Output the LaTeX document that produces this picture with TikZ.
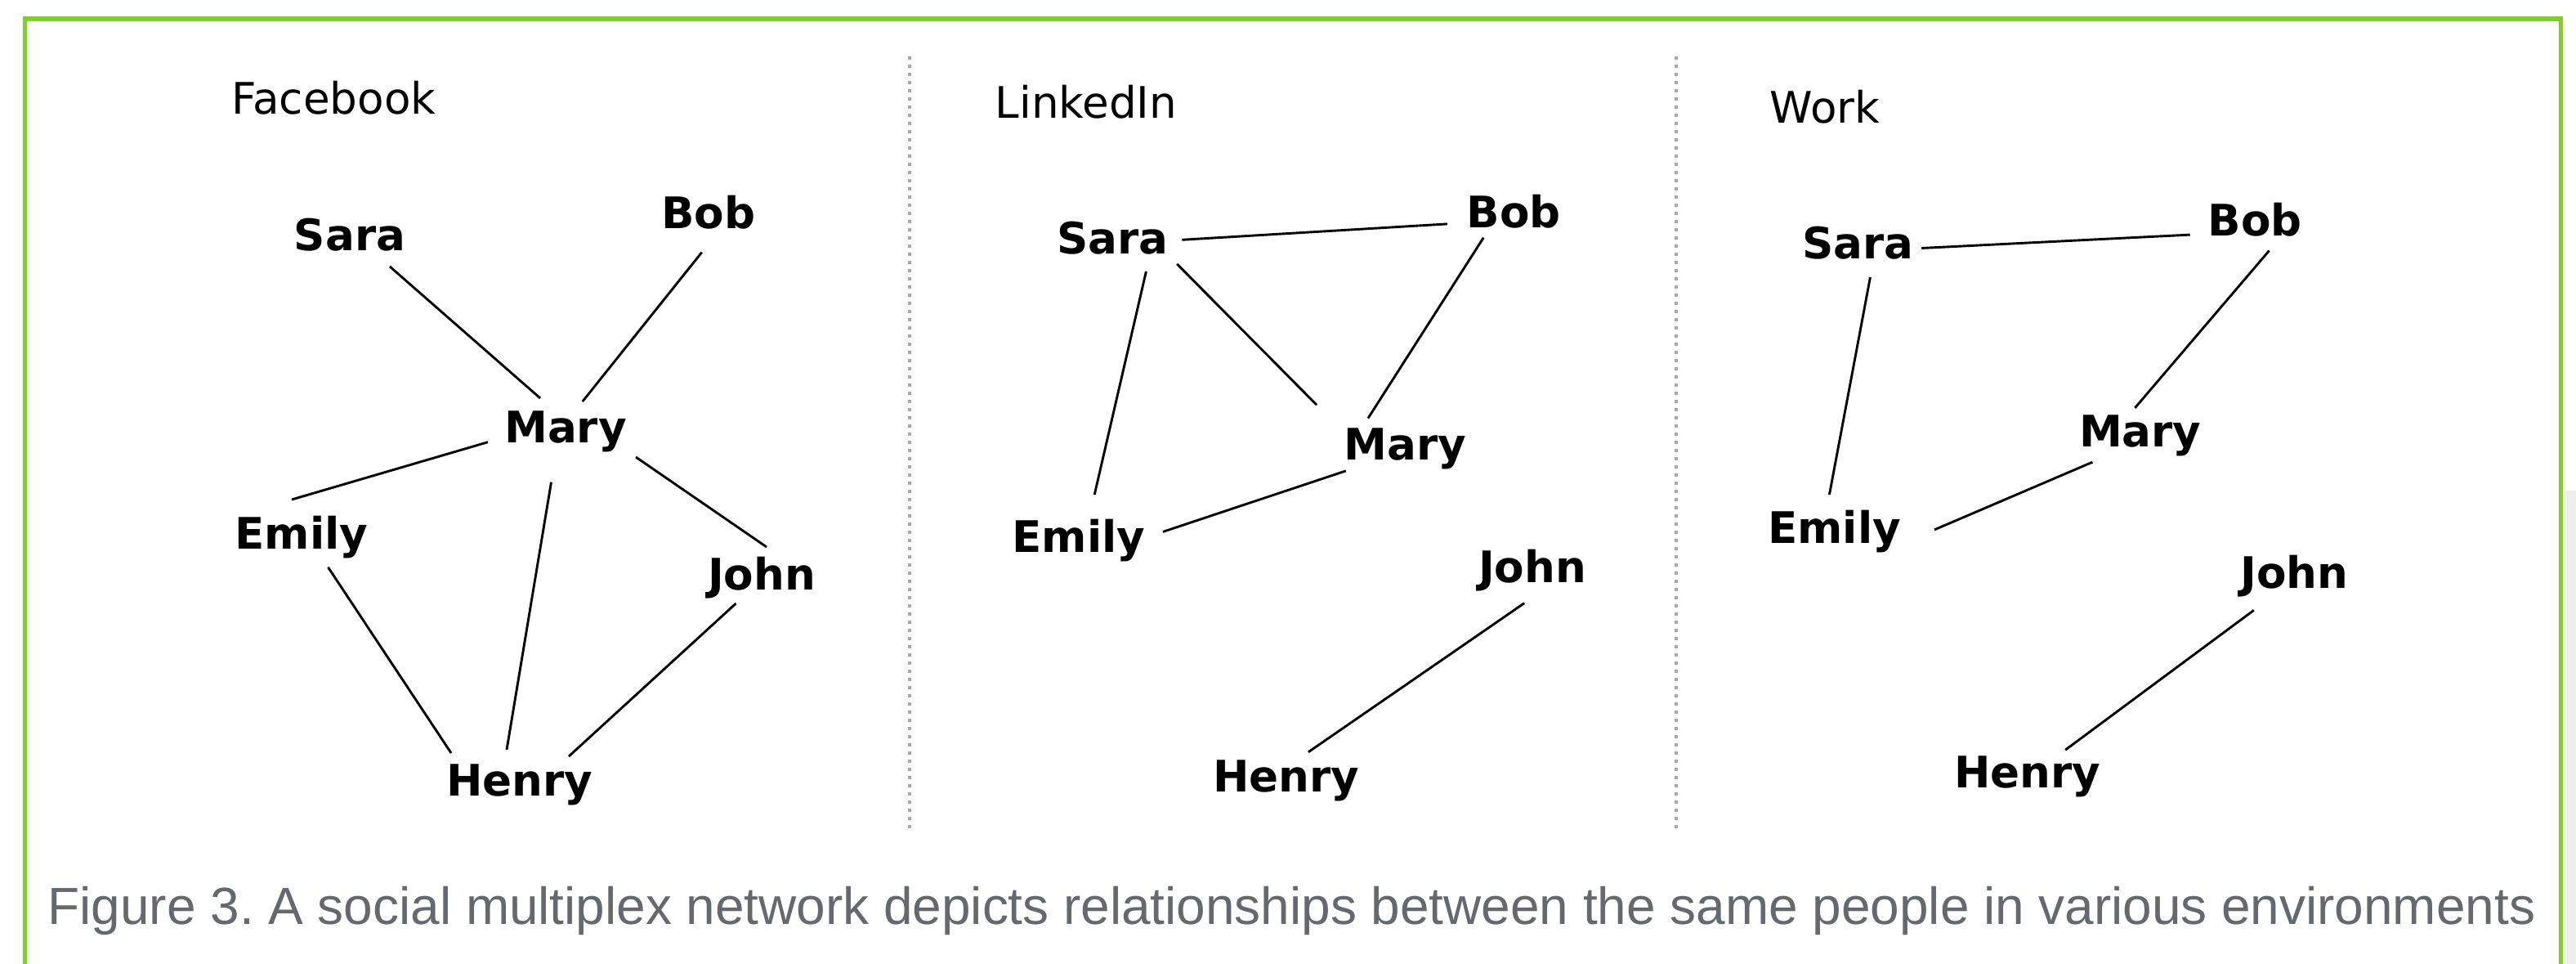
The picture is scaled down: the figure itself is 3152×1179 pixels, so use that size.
\documentclass[tikz,border=0pt]{standalone}
\usepackage{fontspec}
\usetikzlibrary{calc}
\newfontfamily\dejavu{DejaVu Sans}
\newfontfamily\capfont{Liberation Sans}
\definecolor{framegreen}{RGB}{127,208,39}
\definecolor{dotgray}{RGB}{167,169,172}
\definecolor{captiongray}{RGB}{101,104,109}
\definecolor{sidegray}{RGB}{238,238,238}
\newcommand\mylink[6]{\draw[edgeline] ($(#1.base)+(#2,#3)$) -- ($(#4.base)+(#5,#6)$);}
\frenchspacing
\begin{document}
\begin{tikzpicture}[x=0.01cm,y=-0.01cm,
  person/.style={inner sep=0pt,anchor=base,font=\dejavu\bfseries\fontsize{15.1pt}{18pt}\selectfont},
  paneltitle/.style={inner sep=0pt,anchor=base west,font=\dejavu\fontsize{15.1pt}{18pt}\selectfont},
  edgeline/.style={draw=black,line width=0.029cm},
  divider/.style={draw=dotgray,line width=0.04cm,dash pattern=on 0.04cm off 0.06cm},
  frameline/.style={draw=framegreen,line width=0.057cm,line join=miter}]
\useasboundingbox (0,0) rectangle (3152,1179);
\fill[sidegray] (3136.5,600) rectangle (3152,1179);
\draw[frameline] (30.5,1179) -- (30.5,22.7) -- (3133.4,22.7) -- (3133.4,1179);
% dividers
\coordinate (d1t) at (1113,69);
\coordinate (d1b) at (1113,1017);
\coordinate (d2t) at (2051,69);
\coordinate (d2b) at (2051,1017);
\draw[divider] (d1t) -- (d1b);
\draw[divider] (d2t) -- (d2b);
% titles
\node[paneltitle] (t1) at (283,139.3) {Facebook};
\node[paneltitle] (t2) at (1217,145) {LinkedIn};
\node[paneltitle] (t3) at (2165,150) {Work};
% panel 1
\node[person] (S1) at (428,306.5) {Sara};
\node[person] (B1) at (867,279.5) {Bob};
\node[person] (M1) at (692,541) {Mary};
\node[person] (E1) at (369,671) {Emily};
\node[person] (J1) at (932,721) {John};
\node[person] (H1) at (636,973) {Henry};
\mylink{S1}{49}{19.5}{M1}{-31}{-54}
\mylink{B1}{-8.3}{29.1}{M1}{20.8}{-50}
\mylink{M1}{-95}{-0.3}{E1}{-12}{-60}
\mylink{M1}{86}{18}{J1}{6}{-52}
\mylink{M1}{-17.5}{48.7}{H1}{-16}{-56}
\mylink{E1}{32.5}{22.8}{H1}{-84}{-52}
\mylink{J1}{-31.5}{17}{H1}{60}{-48}
% panel 2
\node[person] (S2) at (1361.6,310) {Sara};
\node[person] (B2) at (1852,278.5) {Bob};
\node[person] (M2) at (1719.5,562.7) {Mary};
\node[person] (E2) at (1320,675) {Emily};
\node[person] (J2) at (1875,712) {John};
\node[person] (H2) at (1574,968) {Henry};
\mylink{S2}{84.7}{-16.7}{B2}{-81.2}{-4.6}
\mylink{S2}{40.8}{22}{E2}{19.2}{-70}
\mylink{S2}{78.6}{12.9}{M2}{-108.4}{-67.4}
\mylink{B2}{-36.8}{12.2}{M2}{-45.6}{-51.1}
\mylink{M2}{-72.7}{13.2}{E2}{102.9}{-24.6}
\mylink{J2}{-9.8}{25.6}{H2}{26.9}{-48.2}
% panel 3
\node[person] (S3) at (2273.6,316.7) {Sara};
\node[person] (B3) at (2759,288.7) {Bob};
\node[person] (M3) at (2618.7,546.3) {Mary};
\node[person] (E3) at (2244.5,664.7) {Emily};
\node[person] (J3) at (2807.5,719.3) {John};
\node[person] (H3) at (2481,963) {Henry};
\mylink{S3}{77.5}{-13.2}{B3}{-79.3}{-1.6}
\mylink{S3}{14.8}{22.5}{E3}{-6.1}{-59.7}
\mylink{B3}{17.6}{17.8}{M3}{-6.4}{-47.4}
\mylink{M3}{-58.4}{18.9}{E3}{122.4}{-16.8}
\mylink{J3}{-49.7}{27}{H3}{46.1}{-45.8}
% caption
\node[inner sep=0pt,anchor=base west,text=captiongray,font=\capfont\fontsize{18.1pt}{21pt}\selectfont] (cap) at (58,1130) {\resizebox{30.42cm}{!}{Figure 3. A social multiplex network depicts relationships between the same people in various environments}};
\end{tikzpicture}
\end{document}
